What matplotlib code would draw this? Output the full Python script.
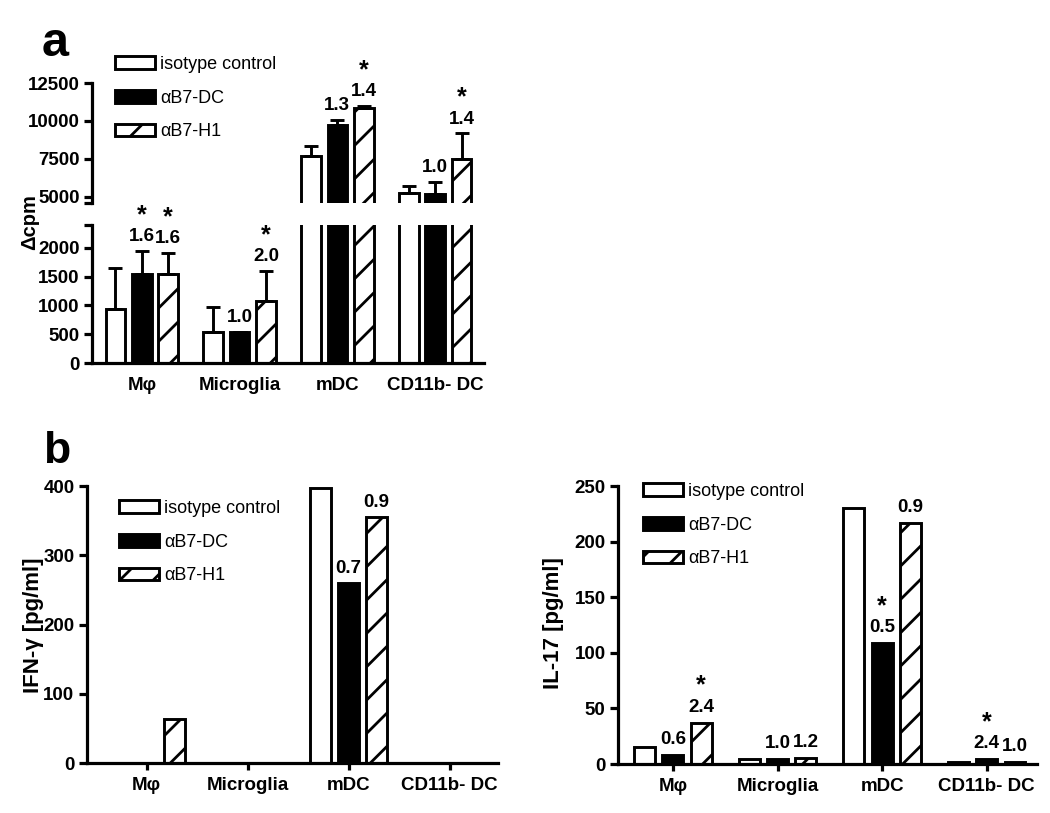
import numpy as np
import matplotlib
matplotlib.use("Agg")
from matplotlib import pyplot as plt

plt.rcParams["font.family"] = ["Liberation Sans", "DejaVu Sans"]
plt.rcParams["hatch.linewidth"] = 2.0
plt.rcParams["axes.linewidth"] = 2.3

cells = ["Mφ", "Microglia", "mDC", "CD11b- DC"]
treatments = ["isotype control", "αB7-DC", "αB7-H1"]

# panel a: proliferation (delta cpm), mean + upper error
cpm_iso = [940, 540, 7690, 5290]
cpm_dc = [1550, 540, 9720, 5220]
cpm_h1 = [1550, 1080, 10850, 7490]
cpm_iso_err = [710, 430, 690, 440]
cpm_dc_err = [400, 0, 350, 770]
cpm_h1_err = [365, 520, 150, 1700]
cpm_dc_lbl = ["1.6", "1.0", "1.3", "1.0"]
cpm_h1_lbl = ["1.6", "2.0", "1.4", "1.4"]
cpm_dc_star = [True, False, False, False]
cpm_h1_star = [True, True, True, True]

# panel b left: IFN-gamma
ifn_iso = [0, 0, 397, 0]
ifn_dc = [0, 0, 260, 0]
ifn_h1 = [63, 0, 355, 0]
ifn_dc_lbl = ["", "", "0.7", ""]
ifn_h1_lbl = ["", "", "0.9", ""]

# panel b right: IL-17
il17_iso = [15.6, 4.2, 230.5, 2.1]
il17_dc = [8.1, 4.2, 108.5, 4.2]
il17_h1 = [37.2, 5.7, 217, 2.1]
il17_dc_lbl = ["0.6", "1.0", "0.5", "2.4"]
il17_h1_lbl = ["2.4", "1.2", "0.9", "1.0"]
il17_dc_star = [False, False, True, True]
il17_h1_star = [True, False, False, False]

W, H = 1050, 813
fig = plt.figure(figsize=(W / 100, H / 100), dpi=100)


def px_axes(x0, y0, x1, y1):
    # axes from pixel box (top-left origin)
    return fig.add_axes([x0 / W, 1 - y1 / H, (x1 - x0) / W, (y1 - y0) / H])


def draw_bars(ax, series, pitch, errs=None):
    x = np.arange(len(cells))
    conts = []
    for k, vals in enumerate(series):
        fc = "black" if k == 1 else "white"
        hatch = "/" if k == 2 else ""
        pos = x + (k - 1) * pitch
        b = ax.bar(pos, vals, width=0.2, color=fc, edgecolor="black",
                   linewidth=2.1, hatch=hatch, label=treatments[k], zorder=2)
        conts.append(b)
        if errs is not None:
            e = errs[k]
            ax.errorbar(pos, vals, yerr=[np.zeros(len(e)), e], fmt="none",
                        ecolor="black", elinewidth=2.1, capsize=5, capthick=2.1,
                        zorder=3)
    return conts


def put_labels(ax, xs, tops, labels, stars, off=6):
    for xi, top, lbl, st in zip(xs, tops, labels, stars):
        if lbl:
            ax.annotate(lbl, (xi, top), xytext=(0, off), textcoords="offset points",
                        ha="center", va="baseline", fontsize=13.5, fontweight="bold")
        if st:
            ax.annotate("*", (xi, top), xytext=(0, off + 13.5), textcoords="offset points",
                        ha="center", va="baseline", fontsize=18, fontweight="bold")


def style(ax, xlim, ticklen_x):
    ax.spines["top"].set_visible(False)
    ax.spines["right"].set_visible(False)
    ax.set_xlim(*xlim)
    ax.set_xticks(np.arange(len(cells)))
    ax.set_xticklabels(cells, fontsize=13.5, fontweight="bold")
    ax.tick_params(axis="x", length=ticklen_x, width=2.3, pad=10 if ticklen_x == 0 else 5)
    ax.tick_params(axis="y", length=6, width=2.3, pad=3, labelsize=13.5)
    for t in ax.get_yticklabels():
        t.set_fontweight("bold")


def add_legend(handles, x0, y0):
    fig.legend(handles, treatments, loc="upper left", bbox_to_anchor=(x0 / W, 1 - y0 / H),
               frameon=False, fontsize=13, handlelength=2.2, handleheight=0.7,
               handletextpad=0.3, labelspacing=0.92, borderpad=0, borderaxespad=0)


# ---------------- panel a (broken axis) ----------------
pitch_a = 0.27
xlim_a = (-0.51, 3.5)
ax_lo = px_axes(92, 225, 484, 363)
ax_hi = px_axes(92, 83, 484, 203)

ser_a = [cpm_iso, cpm_dc, cpm_h1]
err_a = [cpm_iso_err, cpm_dc_err, cpm_h1_err]
bars_a = draw_bars(ax_lo, ser_a, pitch_a, err_a)
draw_bars(ax_hi, ser_a, pitch_a, err_a)

ax_lo.set_ylim(0, 2400)
ax_lo.set_yticks([0, 500, 1000, 1500, 2000])
ax_lo.set_yticks([2400], minor=True)
ax_lo.tick_params(axis="y", which="minor", length=6, width=2.3)
style(ax_lo, xlim_a, 0)

ax_hi.set_ylim(4600, 12500)
ax_hi.set_yticks([5000, 7500, 10000, 12500])
ax_hi.set_yticks([4600], minor=True)
ax_hi.tick_params(axis="y", which="minor", length=6, width=2.3)
style(ax_hi, xlim_a, 0)
ax_hi.spines["bottom"].set_visible(False)
ax_hi.set_xticks([])

x = np.arange(len(cells))
for k, (vals, errs, lbls, stars) in enumerate([
        (cpm_dc, cpm_dc_err, cpm_dc_lbl, cpm_dc_star),
        (cpm_h1, cpm_h1_err, cpm_h1_lbl, cpm_h1_star)]):
    pos = x + k * pitch_a
    tops = np.array(vals) + np.array(errs)
    lo = tops < 2400
    put_labels(ax_lo, pos[lo], tops[lo], np.array(lbls)[lo], np.array(stars)[lo], off=7)
    put_labels(ax_hi, pos[~lo], tops[~lo], np.array(lbls)[~lo], np.array(stars)[~lo], off=7)

fig.text(30 / W, 1 - 222 / H, "Δcpm", rotation=90, ha="center", va="center",
         fontsize=14.5, fontweight="bold")
fig.text(42 / W, 1 - 56 / H, "a", fontsize=35, fontweight="bold", va="baseline")
add_legend(bars_a, 115, 56)

# ---------------- panel b left: IFN-gamma ----------------
ax_ifn = px_axes(87, 486, 498, 763)
bars_ifn = draw_bars(ax_ifn, [ifn_iso, ifn_dc, ifn_h1], 0.277)
ax_ifn.set_ylim(0, 400)
ax_ifn.set_yticks([0, 100, 200, 300, 400])
style(ax_ifn, (-0.59, 3.48), 5)
put_labels(ax_ifn, x, ifn_dc, ifn_dc_lbl, [False] * 4, off=7)
put_labels(ax_ifn, x + 0.277, ifn_h1, ifn_h1_lbl, [False] * 4, off=7)
fig.text(33 / W, 1 - 625 / H, "IFN-γ [pg/ml]", rotation=90, ha="center", va="center",
         fontsize=16, fontweight="bold")
fig.text(43 / W, 1 - 463 / H, "b", fontsize=32, fontweight="bold", va="baseline")
add_legend(bars_ifn, 119, 500)

# ---------------- panel b right: IL-17 ----------------
ax_il = px_axes(618, 486, 1037, 764)
bars_il = draw_bars(ax_il, [il17_iso, il17_dc, il17_h1], 0.27)
ax_il.set_ylim(0, 250)
ax_il.set_yticks([0, 50, 100, 150, 200, 250])
style(ax_il, (-0.525, 3.48), 5)
put_labels(ax_il, x, il17_dc, il17_dc_lbl, il17_dc_star, off=8)
put_labels(ax_il, x + 0.27, il17_h1, il17_h1_lbl, il17_h1_star, off=8)
fig.text(553 / W, 1 - 623 / H, "IL-17 [pg/ml]", rotation=90, ha="center", va="center",
         fontsize=16, fontweight="bold")
add_legend(bars_il, 643, 483)

fig.savefig("out.png", dpi=100)
